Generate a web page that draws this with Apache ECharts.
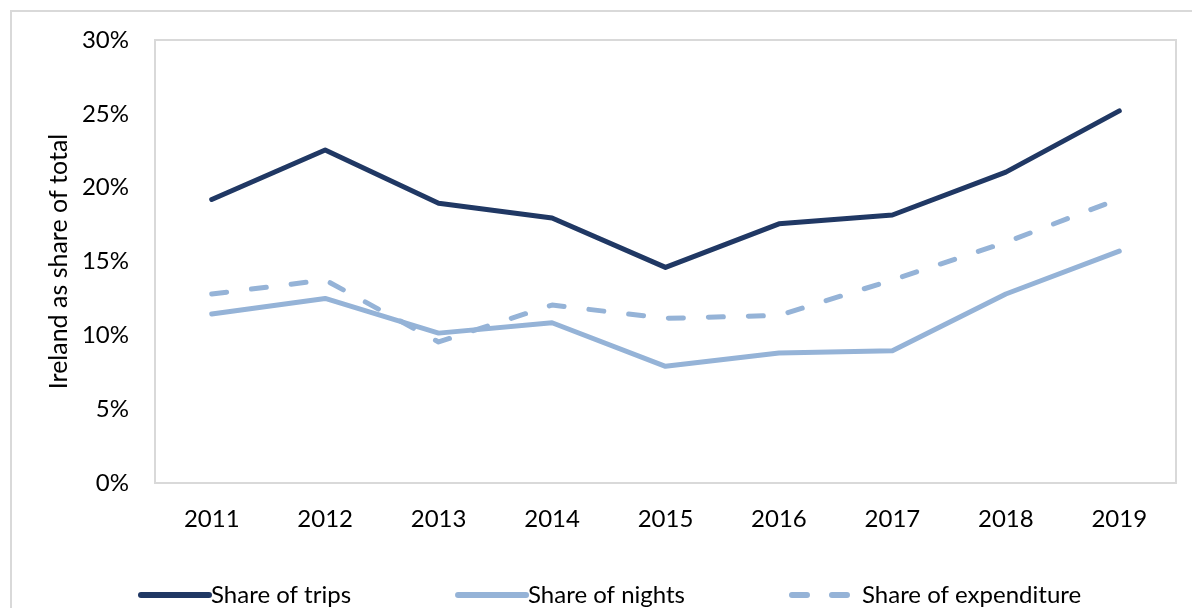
<!DOCTYPE html>
<html>
<head>
<meta charset="utf-8">
<script src="https://cdn.jsdelivr.net/npm/echarts@6/dist/echarts.min.js"></script>
<style>
  html, body { margin: 0; padding: 0; background: #fff; }
  #frame { position: absolute; left: 10px; top: 10px; width: 1182px; height: 598px;
           border-top: 2px solid #d9d9d9; border-left: 2px solid #d9d9d9; box-sizing: border-box; }
  #chart { position: absolute; left: 0; top: 0; width: 1192px; height: 608px; }
</style>
</head>
<body>
<div id="frame"></div>
<div id="chart"></div>
<script>
// 年
const years = ['2011', '2012', '2013', '2014', '2015', '2016', '2017', '2018', '2019'];
// Ireland as share of total (%)
const tripsShare = [19.2, 22.55, 18.95, 17.95, 14.6, 17.55, 18.15, 21.05, 25.2];
const nightsShare = [11.45, 12.5, 10.15, 10.85, 7.9, 8.8, 8.95, 12.8, 15.7];
const expenditureShare = [12.8, 13.75, 9.55, 12.05, 11.15, 11.35, 13.75, 16.3, 19.25];

const NAVY = '#203864';
const LIGHT = '#95b3d7';
const FONT = 'Lato, "Open Sans", sans-serif';

const chart = echarts.init(document.getElementById('chart'), null, { renderer: 'canvas' });

function lineSeries(name, data, color, dashed) {
  return {
    name,
    type: 'line',
    data,
    symbol: 'none',
    color,
    lineStyle: {
      color,
      width: 5,
      type: dashed ? [15, 25] : 'solid',
      cap: 'round',
      join: 'round',
    },
    emphasis: { disabled: true },
  };
}

chart.setOption({
  animation: false,
  textStyle: { fontFamily: FONT },
  grid: {
    left: 155, right: 16, top: 40, bottom: 125,
    show: true, borderColor: '#d9d9d9', borderWidth: 2,
  },
  legend: {
    left: 133,
    top: 578,
    itemWidth: 68,
    itemHeight: 8,
    itemGap: 104,
    itemStyle: { color: 'transparent', borderWidth: 0 },
    lineStyle: { width: 6, cap: 'round' },
    textStyle: { color: '#000', fontSize: 24, fontFamily: FONT, padding: [0, 0, 0, -3] },
    data: ['Share of trips', 'Share of nights', 'Share of expenditure'],
  },
  xAxis: {
    type: 'category',
    data: years,
    boundaryGap: true,
    axisLine: { show: true, lineStyle: { color: '#d9d9d9', width: 2 } },
    axisTick: { show: false },
    axisLabel: { color: '#000', fontSize: 24, margin: 24 },
    splitLine: { show: false },
  },
  yAxis: {
    type: 'value',
    min: 0,
    max: 30,
    interval: 5,
    name: 'Ireland as share of total',
    nameLocation: 'middle',
    nameGap: 82,
    nameRotate: 90,
    nameTextStyle: { color: '#000', fontSize: 25 },
    axisLine: { show: false },
    axisTick: { show: false },
    axisLabel: { color: '#000', fontSize: 24, margin: 26, formatter: '{value}%' },
    splitLine: { show: false },
  },
  series: [
    lineSeries('Share of trips', tripsShare, NAVY, false),
    lineSeries('Share of nights', nightsShare, LIGHT, false),
    lineSeries('Share of expenditure', expenditureShare, LIGHT, true),
  ],
});
</script>
</body>
</html>
